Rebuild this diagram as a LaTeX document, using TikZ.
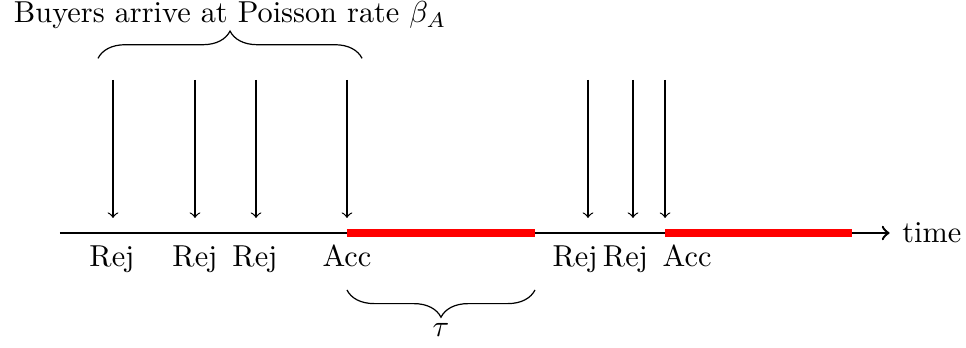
\documentclass[tikz,border=0pt]{standalone}
\usetikzlibrary{decorations.pathreplacing}
\begin{document}
\begin{tikzpicture}[
  arr/.style={->},
  redseg/.style={red, line width=2.6pt},
  brc/.style={decorate, decoration={brace, amplitude=9pt}},
  lbl/.style={inner sep=0pt, anchor=base}
]
\useasboundingbox (0,0) rectangle (11.206,4.037);
% axis
\coordinate (start) at (0.696,1.334);
\coordinate (end) at (10.32,1.334);
\draw[thick,->] (start) -- (end);
\node[inner sep=0pt] (time) at (10.81,1.334) {time};
% red segments
\coordinate (r1a) at (4.025,1.334);
\coordinate (r1b) at (6.206,1.334);
\coordinate (r2a) at (7.715,1.334);
\coordinate (r2b) at (9.884,1.334);
\draw[redseg] (r1a) -- (r1b);
\draw[redseg] (r2a) -- (r2b);
% arrivals
\foreach \n/\x/\lx/\t in {a/1.311/1.299/Rej, b/2.262/2.262/Rej, c/2.970/2.958/Rej, d/4.025/4.025/Acc, e/6.821/6.671/Rej, f/7.343/7.256/Rej, g/7.715/7.970/Acc} {
  \coordinate (top\n) at (\x,3.109);
  \coordinate (bot\n) at (\x,1.508);
  \draw[arr] (top\n) -- (bot\n);
  \node[lbl] (lab\n) at (\lx,0.94) {\t};
}
% top brace
\coordinate (b1) at (1.137,3.36);
\coordinate (b2) at (4.200,3.36);
\draw[brc] (b1) -- (b2);
\node (buyers) at (2.67,3.86) {Buyers arrive at Poisson rate $\beta_A$};
% bottom brace
\coordinate (c1) at (4.025,0.673);
\coordinate (c2) at (6.206,0.673);
\draw[brc] (c2) -- (c1);
\node (tau) at (5.116,0.21) {$\tau$};
\end{tikzpicture}
\end{document}
